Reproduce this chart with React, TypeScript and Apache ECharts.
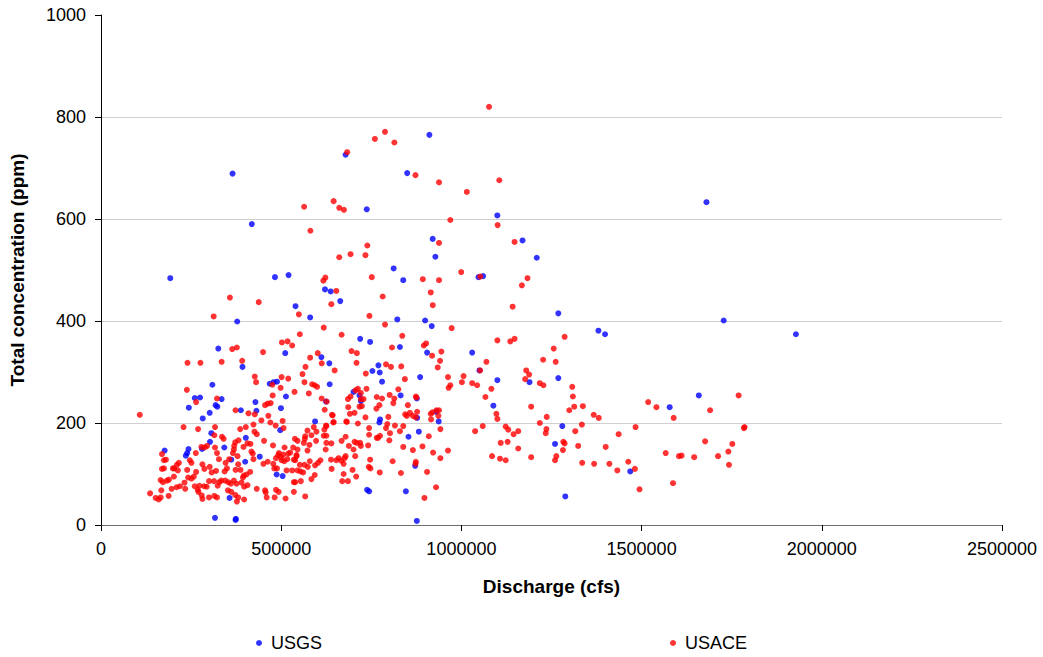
import React, { useEffect, useRef } from 'react';
import * as echarts from 'echarts';

const seriesNames = ['USGS', 'USACE'];
const xTitle = 'Discharge (cfs)';
const yTitle = 'Total concentration (ppm)';

// USGS samples: [discharge cfs, concentration ppm]
const usgsPoints: [number, number][] = [
  [365000, 689], [678600, 726], [737400, 619], [418400, 590], [812000, 503],
  [911200, 765], [849600, 690], [1099700, 607], [920400, 561], [1169600, 558],
  [927800, 526], [1209100, 524], [1047400, 486], [1060200, 488],
  [192200, 484], [482700, 486], [520400, 490], [539700, 429], [377900, 399],
  [325500, 346], [511200, 337], [392600, 310], [468000, 277], [479000, 280],
  [488300, 281], [309000, 275], [260200, 249], [274900, 250], [334700, 247],
  [513100, 252], [243700, 230], [318100, 235], [322700, 232], [428500, 241],
  [431200, 224], [388000, 225], [499300, 229], [301600, 220], [282300, 209],
  [497400, 186], [306200, 180], [401800, 171], [302500, 163], [342100, 152],
  [280400, 149], [242700, 149], [239100, 141], [235400, 136], [176500, 146],
  [361400, 128], [400000, 124], [440400, 134], [487300, 99], [503900, 96],
  [356800, 53], [316300, 14], [373300, 10], [374200, 12],
  [621600, 462], [637300, 458], [663900, 439], [580300, 407], [838600, 480],
  [822100, 403], [899300, 401], [917700, 390], [719100, 365], [746700, 359],
  [829400, 349], [904800, 338], [1029900, 338], [1050100, 303], [611500, 329],
  [633600, 317], [634500, 276], [769700, 313], [773400, 299], [753100, 302],
  [779800, 281], [885500, 290], [624400, 242], [594000, 203], [700700, 261],
  [717300, 254], [721000, 243], [831300, 254], [876300, 248], [774300, 207],
  [772400, 201], [930600, 222], [937000, 203], [881900, 183], [853300, 173],
  [877200, 210], [871800, 116], [876300, 8], [846000, 66], [738400, 69],
  [744000, 66],
  [1268900, 415], [1380200, 381], [1398600, 374], [1099800, 284], [1189000, 280],
  [1268900, 288], [1088700, 234], [1280000, 194], [1259800, 159], [1468500, 105],
  [1288300, 56], [1577900, 231],
  [1727800, 401], [1928200, 374], [1658800, 254], [1680000, 633]
];

// USACE samples: [discharge cfs, concentration ppm]
const usacePoints: [number, number][] = [
  [683000, 731], [760000, 757], [788000, 771], [814000, 750], [563600, 624],
  [645500, 635], [661000, 622], [674000, 618], [581000, 577], [739000, 548],
  [692400, 531], [733800, 529], [661000, 525],
  [1076700, 820], [872600, 686], [937900, 672], [1105200, 676], [1015100, 653],
  [969200, 598], [1100600, 588], [937900, 553], [1147500, 555], [999500, 496],
  [1052000, 487],
  [357700, 446], [437700, 437], [312600, 409], [549000, 413], [551700, 374],
  [502000, 358], [517700, 360], [530500, 352], [364100, 345], [377000, 348],
  [449600, 339], [240000, 318], [275900, 318], [334700, 320], [391700, 322],
  [426700, 291], [430300, 280], [475400, 275], [501100, 290], [519500, 287],
  [498400, 269], [238200, 265], [537000, 261], [263900, 241], [321800, 248],
  [476300, 254], [455200, 235], [462500, 238], [470800, 239], [373300, 225],
  [107600, 216], [409200, 219], [426700, 217], [445000, 205], [464300, 214],
  [503900, 204], [469900, 201], [484600, 195], [229000, 192], [269400, 188],
  [316300, 192], [506600, 190], [386200, 188], [401800, 192], [423000, 197],
  [432200, 178], [425700, 183], [314500, 176], [335600, 173], [340200, 169],
  [381600, 166], [372400, 162], [369600, 155], [406400, 160], [414700, 159],
  [395400, 153], [452400, 165], [477200, 156], [509400, 152], [533300, 152],
  [545300, 148], [294300, 155], [287800, 152], [278600, 153], [316300, 152],
  [169200, 139], [180200, 128], [169200, 110], [174700, 111], [216100, 122],
  [210600, 118], [203200, 111], [199500, 111], [213300, 107], [239100, 108],
  [246400, 127], [251000, 122], [263000, 141], [263900, 104], [257500, 95],
  [281400, 119], [286900, 110], [301600, 114], [307100, 103], [319100, 106],
  [321800, 141], [327300, 129], [355800, 129], [345700, 122], [349400, 111],
  [343000, 105], [368700, 148], [366000, 141], [378800, 135], [380700, 119],
  [387100, 108], [373300, 108], [421100, 140], [417400, 144], [423000, 129],
  [413800, 104], [403600, 99], [396300, 97], [393600, 93], [450600, 120],
  [462500, 124], [485500, 131], [491900, 137], [493800, 141], [499300, 133],
  [505700, 138], [501100, 127], [508500, 125], [516800, 129], [519500, 140],
  [525000, 142], [542500, 135], [538800, 127], [478100, 120], [480900, 111],
  [488300, 111], [514900, 107], [530500, 107], [545300, 107], [551700, 118],
  [538800, 84], [512100, 52], [492800, 65], [485500, 69], [481800, 54],
  [457000, 64], [455200, 68], [459700, 54], [432200, 71], [406400, 78],
  [397200, 75], [389900, 83], [376100, 81], [368700, 87], [360400, 81],
  [353100, 84], [344800, 87], [333800, 87], [328300, 84], [323700, 77],
  [313500, 86], [299800, 86], [293300, 75], [286000, 76], [273100, 77],
  [270300, 65], [279500, 58], [281400, 51], [314500, 57], [321800, 54],
  [299800, 54], [352200, 68], [361400, 65], [372400, 59], [380700, 54],
  [397200, 50], [377000, 46], [136100, 62], [151700, 53], [160000, 50],
  [167300, 68], [165500, 54], [187600, 57], [195900, 71], [209600, 74],
  [218800, 76], [231700, 83], [241800, 93], [251000, 91], [260200, 76],
  [268500, 69], [233600, 71], [165500, 88], [171900, 84], [183000, 87],
  [188500, 89], [202300, 95], [174700, 127],
  [622500, 485], [617000, 479], [652900, 459], [639100, 433], [751300, 486],
  [781600, 448], [892900, 482], [937900, 480], [915000, 456], [920500, 431],
  [744800, 410], [618000, 387], [667600, 373], [788100, 393], [972900, 386],
  [835900, 371], [807400, 348], [895700, 352], [902100, 356], [918600, 332],
  [944400, 340], [940700, 322], [934300, 309], [1069400, 320], [1052000, 303],
  [695200, 341], [709900, 337], [709000, 318], [601400, 337], [612400, 317],
  [580300, 328], [567400, 310], [559100, 296], [564600, 280], [648300, 303],
  [790800, 315], [804600, 310], [833100, 311], [734700, 297], [843200, 286],
  [962800, 290], [964600, 269], [969200, 274], [1006000, 292], [1001400, 280],
  [1029900, 278], [1043700, 274], [1083200, 267], [1066700, 251], [1059300, 194],
  [1038100, 184], [585800, 276], [593100, 274], [599600, 271], [576600, 258],
  [612400, 248], [626200, 242], [620700, 226], [640900, 216], [644600, 201],
  [624400, 195], [685100, 247], [692400, 252], [706200, 264], [712700, 267],
  [720900, 259], [720900, 247], [728300, 247], [736600, 267], [717300, 232],
  [723700, 233], [686000, 231], [765100, 251], [779800, 248], [772400, 235],
  [764200, 228], [800900, 255], [813800, 248], [811100, 239], [824900, 266],
  [851500, 235], [873600, 252], [875400, 250], [690600, 218], [703500, 220],
  [733800, 211], [712700, 199], [743900, 190], [743900, 177], [642800, 215],
  [645600, 202], [680500, 203], [625300, 194], [619800, 187], [625300, 175],
  [797300, 212], [794500, 198], [801900, 180], [790800, 190], [815600, 195],
  [829400, 184], [838600, 194], [844100, 217], [848700, 214], [857000, 220],
  [865300, 214], [873600, 211], [877200, 222], [915000, 218], [919600, 221],
  [930600, 225], [937900, 225], [936100, 214], [915900, 207], [941700, 188],
  [909500, 174], [892000, 154], [921400, 142], [941700, 131], [962800, 146],
  [838600, 153], [865300, 147], [873600, 124], [872700, 120], [904800, 104],
  [929700, 74], [897500, 53], [832200, 102], [809200, 125], [773400, 103],
  [746700, 128], [743000, 114], [747600, 111], [719100, 161], [720900, 155],
  [709900, 161], [703500, 163], [667600, 165], [678700, 173], [682300, 202],
  [765100, 171], [774300, 175], [768700, 171], [800000, 166], [741200, 156],
  [687800, 155], [700700, 148], [705300, 135], [678700, 135], [673200, 120],
  [666700, 126], [675900, 131], [659300, 131], [652900, 127], [638200, 128],
  [640000, 110], [698000, 108], [673200, 100], [669400, 86], [685100, 86],
  [708100, 95], [639100, 160], [623500, 148], [625300, 161], [618000, 175],
  [597700, 183], [590400, 192], [583900, 176], [596800, 165], [578400, 157],
  [572900, 146], [565500, 169], [562800, 161], [566500, 174], [572900, 185],
  [545300, 165], [538000, 169], [542600, 137], [535200, 128], [579300, 125],
  [594000, 117], [602300, 122], [608800, 127], [573800, 114], [564600, 118],
  [560900, 103], [553600, 105], [535200, 84], [535200, 65], [583900, 90],
  [593100, 98], [554500, 86], [566500, 56],
  [1183400, 484], [1167800, 470], [1142100, 428], [1099800, 362], [1135600, 360],
  [1147600, 365], [1286400, 369], [1256100, 346], [1226700, 324], [1261600, 320],
  [1179800, 303], [1188000, 295], [1177000, 286], [1217500, 278], [1227600, 274],
  [1307600, 271], [1309400, 252], [1299300, 225], [1313100, 232], [1337000, 233],
  [1367300, 216], [1381100, 210], [1193600, 232], [1097000, 218], [1099800, 208],
  [1122800, 193], [1130100, 187], [1144800, 178], [1157700, 184], [1236800, 212],
  [1217500, 200], [1235900, 188], [1234000, 180], [1334200, 197], [1315900, 184],
  [1109000, 161], [1128300, 163], [1157700, 150], [1085100, 135], [1107100, 130],
  [1122800, 127], [1193600, 133], [1282800, 163], [1286400, 160], [1281800, 147],
  [1263400, 135], [1259800, 127], [1324100, 155], [1400400, 153], [1436300, 178],
  [1483200, 192], [1335200, 122], [1368300, 120], [1410600, 120], [1432600, 107],
  [1463000, 124], [1481400, 110], [1494200, 70], [1518200, 241], [1541100, 231],
  [1588900, 210], [1566900, 141], [1603700, 135], [1587200, 82],
  [1769200, 254], [1690100, 225], [1783900, 190], [1785700, 192], [1676300, 164],
  [1751700, 159], [1740700, 144], [1645900, 133], [1712100, 135], [1742500, 118],
  [1611000, 136]
];

const FONT = "'Liberation Sans', Arial, sans-serif";

const App: React.FC = () => {
  const chartRef = useRef<HTMLDivElement>(null);

  useEffect(() => {
    if (!chartRef.current) return;
    const chart = echarts.init(chartRef.current, undefined, { renderer: 'svg' });

    const legendText = { fontFamily: FONT, fontSize: 18, color: '#000' };
    const titleText = { fontFamily: FONT, fontSize: 19, fontWeight: 'bold', color: '#000' };

    const option = {
      animation: false,
      backgroundColor: '#ffffff',
      textStyle: { fontFamily: FONT },
      grid: { left: 96, right: 41, top: 15, bottom: 132, containLabel: false },
      legend: [
        {
          data: [seriesNames[0]],
          left: 256,
          top: 634,
          padding: 0,
          icon: 'circle',
          itemWidth: 14,
          itemHeight: 6,
          textStyle: legendText
        },
        {
          data: [seriesNames[1]],
          left: 670,
          top: 634,
          padding: 0,
          icon: 'circle',
          itemWidth: 14,
          itemHeight: 6,
          textStyle: legendText
        }
      ],
      xAxis: {
        type: 'value',
        min: 0,
        max: 2500000,
        interval: 500000,
        name: xTitle,
        nameLocation: 'middle',
        nameGap: 52,
        nameTextStyle: titleText,
        axisLine: { show: true, lineStyle: { color: '#707070', width: 1 } },
        axisTick: { show: true, inside: false, length: 6, lineStyle: { color: '#000' } },
        axisLabel: {
          fontFamily: FONT,
          fontSize: 18,
          color: '#000',
          margin: 15,
          formatter: (v: number) => String(v)
        },
        splitLine: { show: false }
      },
      yAxis: {
        type: 'value',
        min: 0,
        max: 1000,
        interval: 200,
        name: yTitle,
        nameLocation: 'middle',
        nameGap: 74,
        nameTextStyle: titleText,
        axisLine: { show: true, lineStyle: { color: '#000', width: 1 } },
        axisTick: { show: true, inside: false, length: 6, lineStyle: { color: '#000' } },
        axisLabel: {
          fontFamily: FONT,
          fontSize: 18,
          color: '#000',
          margin: 15,
          formatter: (v: number) => String(v)
        },
        splitLine: {
          show: true,
          showMinLine: false,
          showMaxLine: false,
          lineStyle: { color: '#d0d0d0', width: 1 }
        }
      },
      series: [
        {
          name: seriesNames[0],
          type: 'scatter',
          symbol: 'circle',
          symbolSize: 6,
          itemStyle: { color: '#0000ff' },
          data: usgsPoints
        },
        {
          name: seriesNames[1],
          type: 'scatter',
          symbol: 'circle',
          symbolSize: 6,
          itemStyle: { color: '#ff0000' },
          data: usacePoints
        }
      ]
    };

    chart.setOption(option);

    return () => {
      chart.dispose();
    };
  }, []);

  return (
    <div
      ref={chartRef}
      style={{ position: 'absolute', left: 0, top: 0, width: 1043, height: 657 }}
    />
  );
};

export default App;
